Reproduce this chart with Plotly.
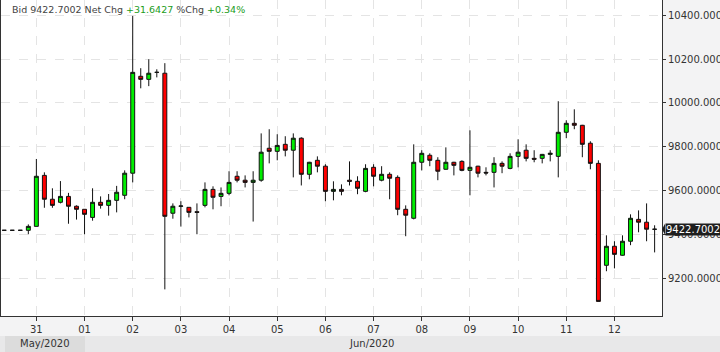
import pandas as pd
import plotly.graph_objects as go

# 4-hour candles, first at 2020-05-30 08:00
start = "2020-05-30 08:00"
opens = [9418, 9418, 9418, 9418, 9436, 9669, 9560, 9546, 9573, 9528, 9514, 9477, 9546, 9532, 9555, 9578,
         9679, 10122, 10108, 10140, 10136, 9496, 9528, 9523, 9503, 9532, 9605, 9573, 9587, 9665, 9647, 9637,
         9647, 9793, 9779, 9811, 9784, 9839, 9674, 9738, 9711, 9596, 9605, 9647, 9642, 9596, 9706, 9647,
         9674, 9660, 9514, 9473, 9729, 9761, 9738, 9697, 9729, 9733, 9692, 9711, 9683, 9683, 9724, 9701,
         9756, 9784, 9747, 9747, 9765, 9756, 9866, 9907, 9898, 9816, 9724, 9258, 9345, 9304, 9368, 9468,
         9455, 9423]
highs = [9418, 9418, 9418, 9445, 9744, 9683, 9610, 9643, 9589, 9532, 9514, 9610, 9573, 9584, 9621, 9692,
         10398, 10159, 10200, 10154, 10182, 9541, 9551, 9523, 9541, 9637, 9619, 9614, 9688, 9688, 9669, 9688,
         9861, 9880, 9857, 9848, 9861, 9843, 9731, 9756, 9720, 9642, 9628, 9733, 9665, 9720, 9720, 9711,
         9683, 9669, 9532, 9811, 9784, 9770, 9752, 9797, 9731, 9738, 9875, 9713, 9706, 9752, 9733, 9770,
         9834, 9811, 9784, 9767, 9784, 10008, 9921, 9971, 9900, 9825, 9738, 9395, 9368, 9395, 9491, 9509,
         9541, 9441]
lows = [9418, 9418, 9418, 9400, 9436, 9521, 9521, 9541, 9448, 9467, 9400, 9462, 9517, 9485, 9500, 9560,
        9637, 10067, 10077, 10117, 9148, 9471, 9435, 9477, 9400, 9523, 9514, 9528, 9578, 9637, 9614, 9458,
        9640, 9724, 9738, 9756, 9660, 9623, 9651, 9683, 9551, 9555, 9578, 9623, 9583, 9592, 9619, 9642,
        9560, 9487, 9391, 9468, 9692, 9711, 9647, 9695, 9669, 9688, 9578, 9660, 9669, 9614, 9679, 9697,
        9706, 9733, 9729, 9724, 9733, 9660, 9839, 9880, 9752, 9697, 9093, 9231, 9244, 9302, 9350, 9409,
        9368, 9317]
closes = [9418, 9418, 9418, 9436, 9665, 9560, 9532, 9573, 9528, 9514, 9491, 9546, 9532, 9555, 9592, 9679,
          10140, 10108, 10136, 10140, 9482, 9528, 9529, 9500, 9500, 9605, 9569, 9587, 9637, 9647, 9637, 9647,
          9775, 9779, 9806, 9784, 9839, 9674, 9729, 9711, 9596, 9605, 9596, 9642, 9610, 9701, 9665, 9674,
          9656, 9514, 9487, 9729, 9770, 9738, 9688, 9729, 9715, 9692, 9706, 9679, 9680, 9724, 9711, 9756,
          9775, 9747, 9743, 9765, 9770, 9866, 9907, 9898, 9811, 9724, 9093, 9345, 9308, 9368, 9473, 9455,
          9423, 9422.7002]

y_ticks = [9200, 9400, 9600, 9800, 10000, 10200, 10400]
day_ticks = pd.date_range("2020-05-31", "2020-06-12", freq="D")
day_labels = [d.strftime("%d") for d in day_ticks]
months = ["May/2020", "Jun/2020"]
last_price = 9422.7002
net_chg = "+31.6427"
pct_chg = "+0.34%"

times = pd.date_range(start, periods=len(opens), freq="4h")

fig = go.Figure()
fig.add_trace(go.Candlestick(
    x=times, open=opens, high=highs, low=lows, close=closes,
    increasing=dict(fillcolor="#00ee00", line=dict(color="#111111", width=1)),
    decreasing=dict(fillcolor="#ff0000", line=dict(color="#111111", width=1)),
    whiskerwidth=0, showlegend=False,
))

L, R, T, B = 1, 58, 0, 36
W, H = 720, 352
pw, ph = W - L - R, H - T - B

def px_x(p):
    return (p - L) / pw

def px_y(p):
    return 1 - (p - T) / ph

fig.update_layout(
    width=W, height=H,
    margin=dict(l=L, r=R, t=T, b=B, autoexpand=False),
    paper_bgcolor="#f3f3f4", plot_bgcolor="#ffffff",
    font=dict(family="DejaVu Sans", size=10, color="#333333"),
    xaxis=dict(
        range=["2020-05-30 06:23", "2020-06-12 23:41"],
        rangeslider=dict(visible=False),
        tickvals=day_ticks, ticktext=day_labels,
        showgrid=True, gridcolor="#e4e4e4", griddash="dash", gridwidth=1,
        showline=True, linecolor="#333333", linewidth=1,
        ticks="outside", ticklen=4, tickcolor="#333333",
        tickfont=dict(size=10, color="#333333"),
        zeroline=False, fixedrange=True,
    ),
    yaxis=dict(
        side="right", range=[9026.3, 10470.7],
        tickvals=y_ticks, ticktext=[f"{v:.4f}" for v in y_ticks],
        showgrid=True, gridcolor="#e4e4e4", griddash="dash", gridwidth=1,
        showline=True, mirror=True, linecolor="#333333", linewidth=1,
        ticks="outside", ticklen=3, tickcolor="#333333", ticklabelstandoff=0,
        tickfont=dict(size=10, color="#333333"),
        zeroline=False, fixedrange=True,
    ),
)

# bottom month band
fig.add_shape(type="rect", xref="paper", yref="paper",
              x0=px_x(0), x1=px_x(W), y0=px_y(336), y1=px_y(H),
              fillcolor="#e8e8e9", line=dict(width=0), layer="above")
fig.add_shape(type="rect", xref="paper", yref="paper",
              x0=px_x(5), x1=px_x(85), y0=px_y(336), y1=px_y(H),
              fillcolor="#dcdcdc", line=dict(width=0), layer="above")
fig.add_annotation(xref="paper", yref="paper", x=px_x(45), y=px_y(343.5),
                   xanchor="center", yanchor="middle",
                   text=months[0], showarrow=False, font=dict(size=10, color="#333333"))
fig.add_annotation(xref="paper", yref="paper", x=px_x(371), y=px_y(343.5),
                   xanchor="center", yanchor="middle",
                   text=months[1], showarrow=False, font=dict(size=10, color="#333333"))

# header
g = "#1b9c1b"
fig.add_annotation(
    xref="paper", yref="paper", x=px_x(10), y=px_y(10), xanchor="left", yanchor="middle",
    showarrow=False, font=dict(size=9.5, color="#444444"),
    text=(f"Bid {last_price:.4f} Net Chg <span style='color:{g}'>{net_chg}</span>"
          f" %Chg <span style='color:{g}'>{pct_chg}</span>"),
)

# last price marker
fig.add_annotation(xref="paper", yref="y", x=1, y=last_price, xanchor="left", yanchor="middle",
                   xshift=3, showarrow=False, text=f"{last_price:.4f}",
                   bgcolor="#1e1e1e", font=dict(size=10, color="#ffffff"), borderpad=0)
fig.add_shape(type="path", xref="paper", yref="y",
              path=(f"M {px_x(662)} {last_price} L {px_x(665)} {last_price + 25} "
                    f"L {px_x(665)} {last_price - 25} Z"),
              fillcolor="#1e1e1e", line=dict(width=0))

fig.write_html("out.html")
